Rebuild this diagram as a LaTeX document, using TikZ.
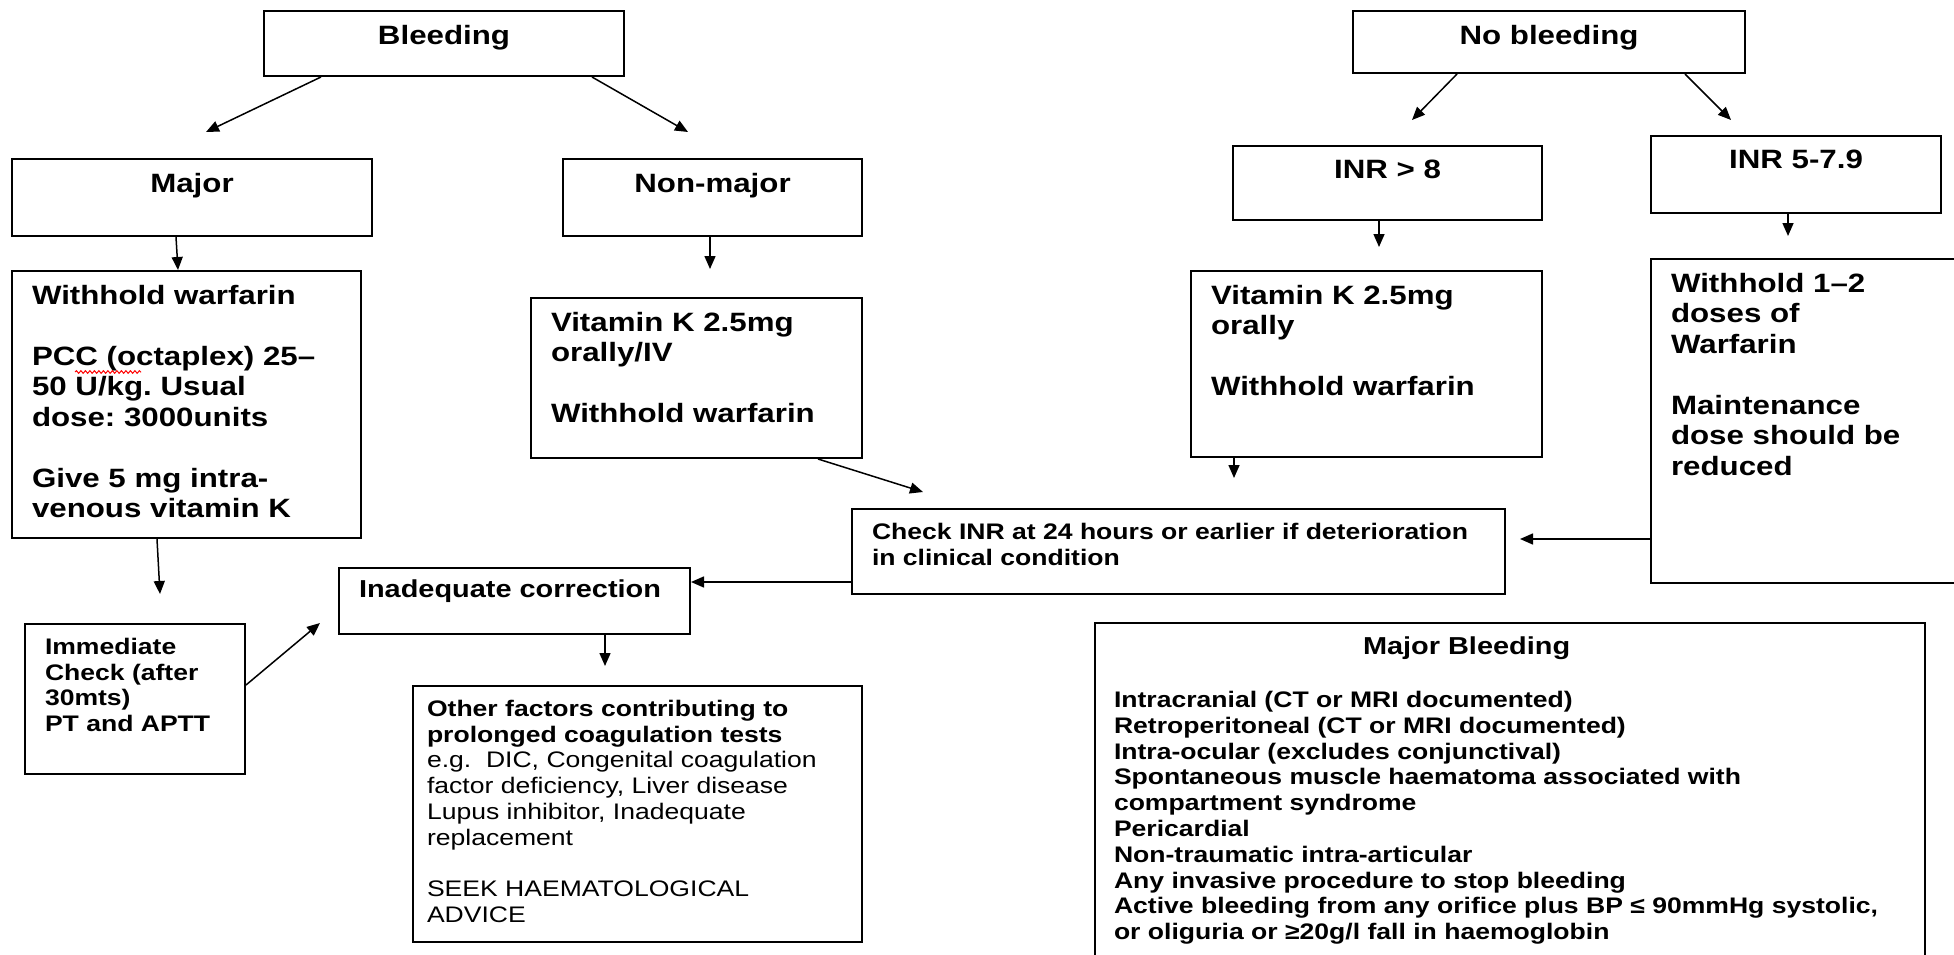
\documentclass[tikz,border=0pt]{standalone}
\usepackage{fontspec}
\setmainfont{Liberation Sans}[FakeStretch=1.18]
\usetikzlibrary{arrows.meta}
\usetikzlibrary{calc}
\usetikzlibrary{decorations.pathmorphing}
\frenchspacing
\newcommand{\bigtxt}{\fontsize{26.5}{30.5}\selectfont\bfseries}
\newcommand{\smalltxt}{\fontsize{22.5}{25.8}\selectfont}
\newcommand{\headtxt}{\fontsize{24.5}{28}\selectfont}
\newcommand{\blockbox}[3]{\parbox[c][#2pt][t]{#1pt}{\raggedright #3}}

\tikzset{
  card/.style={draw, line width=2pt, anchor=north west, inner xsep=20pt, inner ysep=14pt},
  big/.style={font=\bigtxt},
  small/.style={font=\smalltxt\bfseries},
  link/.style={line width=1.5pt, -{Triangle[length=13pt,width=11pt]}}
}

\begin{document}
\begin{tikzpicture}[x=1pt,y=-1pt]
\clip (0,0) rectangle (1954,955);

\node[card,big] (bleed) at (263,10) {\blockbox{320}{37}{\centering Bleeding}};
\node[card,big] (nobleed) at (1352,10) {\blockbox{352}{34}{\centering No bleeding}};
\node[card,big] (major) at (11,158) {\blockbox{320}{49}{\centering Major}};
\node[card,big] (nonmajor) at (562,158) {\blockbox{259}{49}{\centering Non-major}};
\node[card,big] (inr8) at (1232,145) {\blockbox{269}{46}{\centering INR > 8}};
\node[card,big] (inr5) at (1650,135) {\blockbox{250}{49}{\centering INR 5-7.9}};

\node[card,big] (withM) at (11,270) {\blockbox{309}{239}{Withhold warfarin\\[30.5pt]
  PCC (octaplex) 25–\\ 50 U/kg. Usual\\ dose: 3000units\\[30.5pt]
  Give 5 mg intra-\\ venous vitamin K}};
\node[card,big] (vitN) at (530,297) {\blockbox{291}{132}{Vitamin K 2.5mg\\ orally/IV\\[30.5pt] Withhold warfarin}};
\node[card,big] (vitI) at (1190,270) {\blockbox{311}{158}{Vitamin K 2.5mg\\ orally\\[30.5pt] Withhold warfarin}};
\node[card,big] (withI) at (1650,258) {\blockbox{300}{296}{Withhold 1–2\\ doses of\\ Warfarin\\[30.5pt]
  Maintenance\\ dose should be\\ reduced}};

\node[card,small] (check) at (851,508) {\blockbox{613}{57}{Check INR at 24 hours or earlier if deterioration\\ in clinical condition}};
\node[card,small,inner ysep=12pt] (inadeq) at (338,567) {\blockbox{311}{42}{\headtxt Inadequate correction}};
\node[card,small] (immed) at (24,623) {\blockbox{180}{122}{Immediate\\ Check (after\\ 30mts)\\ PT and APTT}};
\node[card,small,inner xsep=14pt] (other) at (412,685) {\blockbox{421}{228}{Other factors contributing to\\
  prolonged coagulation tests\\ \mdseries e.g.\ \ DIC, Congenital coagulation\\
  factor deficiency, Liver disease\\ Lupus inhibitor, Inadequate\\ replacement\\[25.8pt]
  SEEK HAEMATOLOGICAL\\ ADVICE}};
\node[card,small,inner xsep=19pt] (majbleed) at (1094,622) {\blockbox{792}{322}{\hspace*{249pt}{\headtxt Major Bleeding}\par
  \vspace{27pt}
  Intracranial (CT or MRI documented)\\
  Retroperitoneal (CT or MRI documented)\\
  Intra-ocular (excludes conjunctival)\\
  Spontaneous muscle haematoma associated with\\
  compartment syndrome\\
  Pericardial\\
  Non-traumatic intra-articular\\
  Any invasive procedure to stop bleeding\\
  Active bleeding from any orifice plus BP ≤ 90mmHg systolic,\\
  or oliguria or ≥20g/l fall in haemoglobin}};

\draw[red, line width=1pt, decorate, decoration={snake, amplitude=1.3pt, segment length=4.5pt}] (75,372) -- (141,372);

\coordinate (toMajor) at (206,132);
\coordinate (toNonmajor) at (688,132);
\coordinate (toInrHigh) at (1412,120);
\coordinate (toInrLow) at (1731,120);
\coordinate (toVitN) at (710,269);
\coordinate (toVitI) at (1379,247);
\coordinate (toWithI) at (1788,236);
\coordinate (toImmed) at (160,594);
\coordinate (toCheckA) at (923,492);
\coordinate (toCheckB) at (1234,478);
\coordinate (toCheckC) at (1520,539);
\coordinate (backRow) at (760,582);
\coordinate (toInadeq) at (320,623);
\coordinate (toOther) at (605,666);

\draw[link] ([xshift=58pt]bleed.south west) -- (toMajor);
\draw[link] ([xshift=329pt]bleed.south west) -- (toNonmajor);
\draw[link] ([xshift=105pt]nobleed.south west) -- (toInrHigh);
\draw[link] ([xshift=333pt]nobleed.south west) -- (toInrLow);
\draw[link] ([xshift=165pt]major.south west) -- ([xshift=167pt]withM.north west);
\draw[link] ([xshift=148pt]nonmajor.south west) -- (toVitN);
\draw[link] ([xshift=147pt]inr8.south west) -- (toVitI);
\draw[link] ([xshift=138pt]inr5.south west) -- (toWithI);
\draw[link] ([xshift=146pt]withM.south west) -- (toImmed);
\draw[link] ([xshift=288pt]vitN.south west) -- (toCheckA);
\draw[link] ([xshift=44pt]vitI.south west) -- (toCheckB);
\draw[link] (withI.west |- toCheckC) -- (toCheckC);
\draw[link] (check.west |- backRow) -- (inadeq.east |- backRow);
\draw[link] (immed.east |- 0,685) -- (toInadeq);
\draw[link] ([xshift=267pt]inadeq.south west) -- (toOther);
\end{tikzpicture}
\end{document}
